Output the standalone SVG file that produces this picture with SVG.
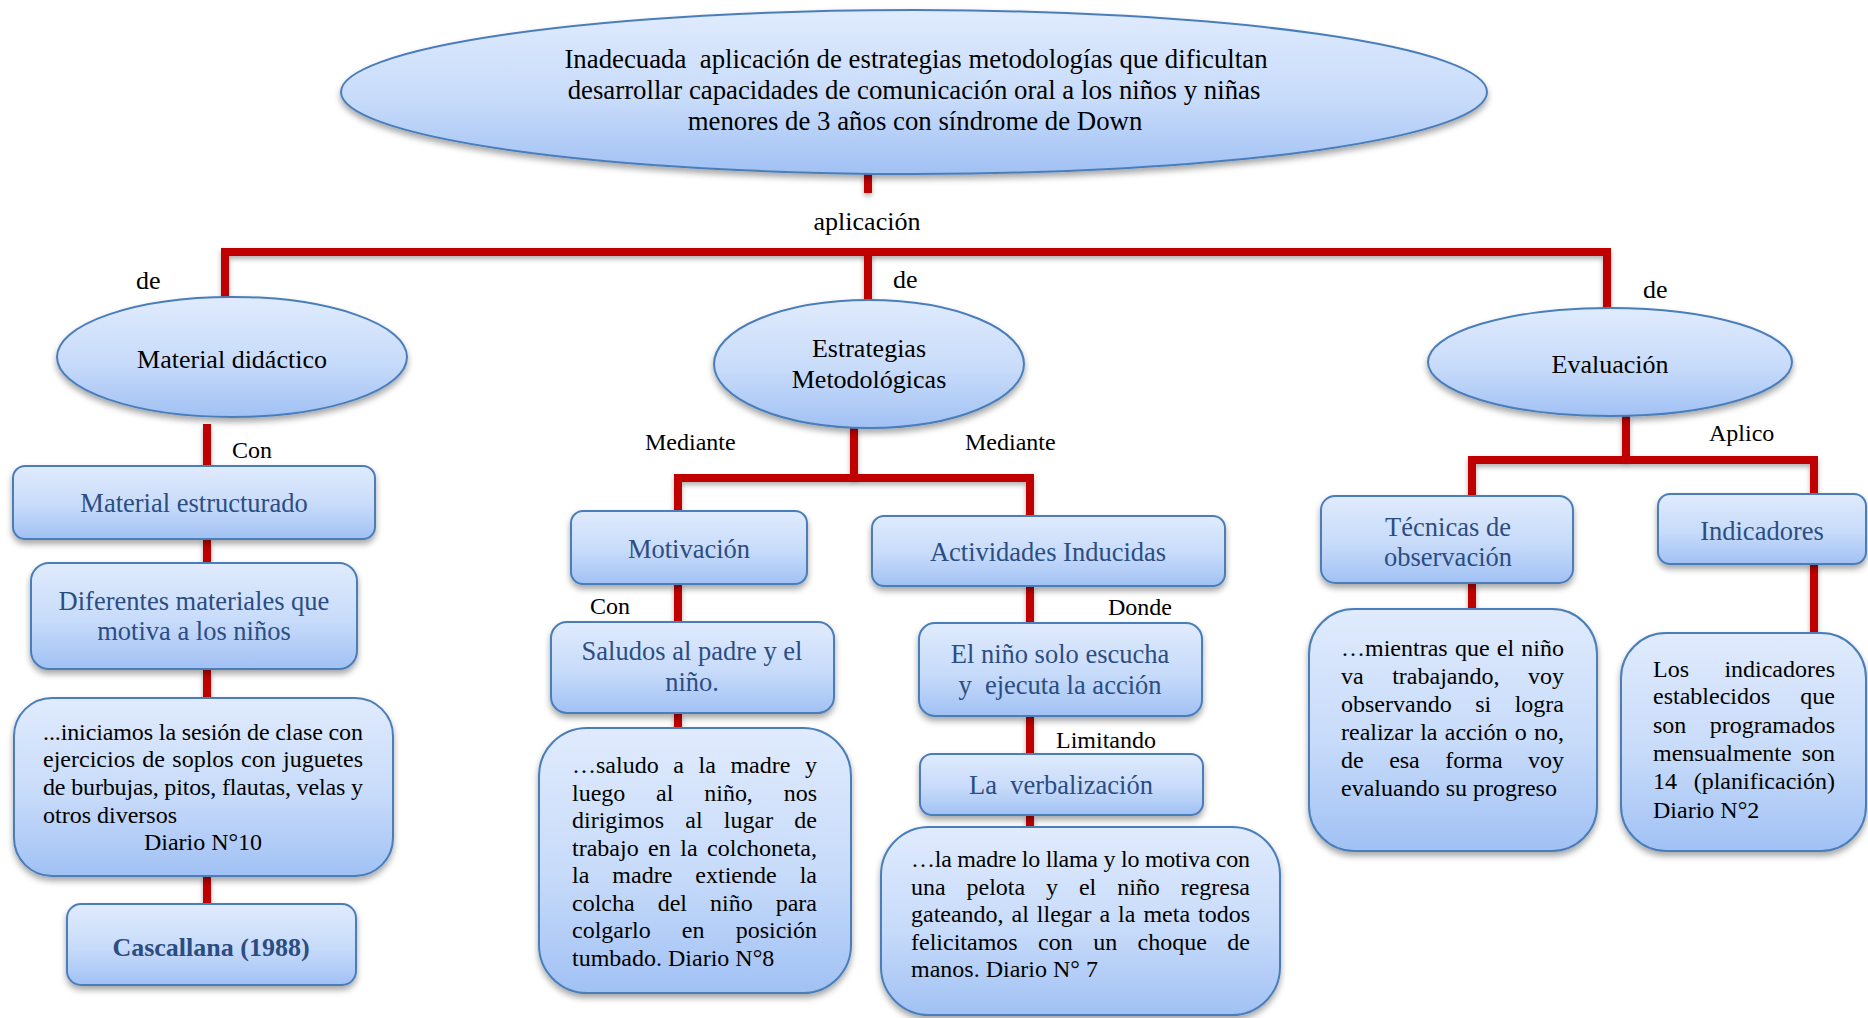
<svg xmlns="http://www.w3.org/2000/svg" width="1868" height="1018" viewBox="0 0 1868 1018">
<defs>
<linearGradient id="g" x1="0" y1="0" x2="0" y2="1">
<stop offset="0" stop-color="#E0EBFD"/>
<stop offset="0.55" stop-color="#C7DBFA"/>
<stop offset="1" stop-color="#A1C1F4"/>
</linearGradient>
<filter id="sh" x="-10%" y="-10%" width="120%" height="130%">
<feDropShadow dx="0" dy="4" stdDeviation="3" flood-color="#000" flood-opacity="0.35"/>
</filter>
<filter id="shc" filterUnits="userSpaceOnUse" x="0" y="0" width="1868" height="1018">
<feDropShadow dx="0" dy="3" stdDeviation="2.5" flood-color="#000" flood-opacity="0.3"/>
</filter>
</defs>
<style>
.n{fill:url(#g);stroke:#4A7EBB;stroke-width:2;filter:url(#sh)}
.c{stroke:#C00000;stroke-width:8;fill:none;filter:url(#shc)}
text{font-family:"Liberation Serif","Times New Roman",serif}
.nt{font-size:26.5px;fill:#2C4D82;text-anchor:middle}
.et{font-size:26px;fill:#000;text-anchor:middle}
.bt{font-size:24px;fill:#000}
.lb{font-size:24px;fill:#000}
.b{font-weight:bold}
</style>

<g id="connectors">
<path class="c" d="M868 173V193"/>
<path class="c" d="M225 298V252H1607V315"/>
<path class="c" d="M868 252V308"/>
<path class="c" d="M207 424V466M207 539V563M207 669V698M207 876V904"/>
<path class="c" d="M854 428V478"/>
<path class="c" d="M678 511V478H1030V516"/>
<path class="c" d="M678 584V622M678 713V728"/>
<path class="c" d="M1030 586V623M1030 716V754M1030 815V827"/>
<path class="c" d="M1626 416V460"/>
<path class="c" d="M1472 495V460H1814V494"/>
<path class="c" d="M1472 583V609M1814 564V633"/>
</g>

<g id="labels">
<text class="et" x="867" y="230">aplicación</text>
<text class="lb" x="136" y="289" style="font-size:26px">de</text>
<text class="lb" x="893" y="288" style="font-size:26px">de</text>
<text class="lb" x="1643" y="298" style="font-size:26px">de</text>
<text class="lb" x="232" y="458">Con</text>
<text class="lb" x="645" y="450">Mediante</text>
<text class="lb" x="965" y="450">Mediante</text>
<text class="lb" x="590" y="614">Con</text>
<text class="lb" x="1108" y="615">Donde</text>
<text class="lb" x="1056" y="748">Limitando</text>
<text class="lb" x="1709" y="441">Aplico</text>
</g>

<g id="n-root">
<ellipse class="n" cx="914" cy="92" rx="573" ry="82"/>
<text class="et" x="916" y="68" style="font-size:26.8px;white-space:pre">Inadecuada  aplicación de estrategias metodologías que dificultan</text>
<text class="et" x="914" y="99" style="font-size:26.8px">desarrollar capacidades de comunicación oral a los niños y niñas</text>
<text class="et" x="915" y="130" style="font-size:26.8px">menores de 3 años con síndrome de Down</text>
</g>

<g id="n-material">
<ellipse class="n" cx="232" cy="357" rx="175" ry="60"/>
<text class="et" x="232" y="368">Material didáctico</text>
</g>
<g id="n-estrategias">
<ellipse class="n" cx="869" cy="364" rx="155" ry="64"/>
<text class="et" x="869" y="357">Estrategias</text>
<text class="et" x="869" y="388">Metodológicas</text>
</g>
<g id="n-evaluacion">
<ellipse class="n" cx="1610" cy="362" rx="182" ry="54"/>
<text class="et" x="1610" y="373">Evaluación</text>
</g>

<g id="n-estructurado">
<rect class="n" x="13" y="466" width="362" height="73" rx="12"/>
<text class="nt" x="194" y="512">Material estructurado</text>
</g>
<g id="n-diferentes">
<rect class="n" x="31" y="563" width="326" height="106" rx="18"/>
<text class="nt" x="194" y="610">Diferentes materiales que</text>
<text class="nt" x="194" y="640">motiva a los niños</text>
</g>
<g id="n-iniciamos">
<rect class="n" x="14" y="698" width="379" height="178" rx="38"/>
<text class="bt" x="43" y="740" textLength="320" lengthAdjust="spacing">...iniciamos la sesión de clase con</text>
<text class="bt" x="43" y="767" textLength="320" lengthAdjust="spacing" word-spacing="1.3">ejercicios de soplos con juguetes</text>
<text class="bt" x="43" y="795" textLength="320" lengthAdjust="spacing">de burbujas, pitos, flautas, velas y</text>
<text class="bt" x="43" y="823">otros diversos</text>
<text class="bt" x="203" y="850" text-anchor="middle">Diario N°10</text>
</g>
<g id="n-cascallana">
<rect class="n" x="67" y="904" width="289" height="81" rx="14"/>
<text class="nt b" x="211" y="956" style="font-size:26px">Cascallana (1988)</text>
</g>

<g id="n-motivacion">
<rect class="n" x="571" y="511" width="236" height="73" rx="12"/>
<text class="nt" x="689" y="558">Motivación</text>
</g>
<g id="n-saludos">
<rect class="n" x="551" y="622" width="283" height="91" rx="16"/>
<text class="nt" x="692" y="660">Saludos al padre y el</text>
<text class="nt" x="692" y="691">niño.</text>
</g>
<g id="n-saludo-texto">
<rect class="n" x="539" y="728" width="312" height="265" rx="48"/>
<text class="bt" x="572" y="773" textLength="245" lengthAdjust="spacing" word-spacing="8.6">…saludo a la madre y</text>
<text class="bt" x="572" y="801" textLength="245" lengthAdjust="spacing" word-spacing="24.8">luego al niño, nos</text>
<text class="bt" x="572" y="828" textLength="245" lengthAdjust="spacing" word-spacing="15.2">dirigimos al lugar de</text>
<text class="bt" x="572" y="856" textLength="245" lengthAdjust="spacing" word-spacing="3.5">trabajo en la colchoneta,</text>
<text class="bt" x="572" y="883" textLength="245" lengthAdjust="spacing" word-spacing="17">la madre extiende la</text>
<text class="bt" x="572" y="911" textLength="245" lengthAdjust="spacing" word-spacing="17">colcha del niño para</text>
<text class="bt" x="572" y="938" textLength="245" lengthAdjust="spacing" word-spacing="25.2">colgarlo en posición</text>
<text class="bt" x="572" y="966">tumbado. Diario N°8</text>
</g>

<g id="n-actividades">
<rect class="n" x="872" y="516" width="353" height="70" rx="12"/>
<text class="nt" x="1048" y="561">Actividades Inducidas</text>
</g>
<g id="n-escucha">
<rect class="n" x="919" y="623" width="283" height="93" rx="16"/>
<text class="nt" x="1060" y="663">El niño solo escucha</text>
<text class="nt" x="1060" y="694" style="white-space:pre">y  ejecuta la acción</text>
</g>
<g id="n-verbalizacion">
<rect class="n" x="920" y="754" width="283" height="61" rx="12"/>
<text class="nt" x="1061" y="794" style="white-space:pre">La  verbalización</text>
</g>
<g id="n-llama">
<rect class="n" x="881" y="827" width="399" height="188" rx="48"/>
<text class="bt" x="911" y="867" textLength="339" lengthAdjust="spacing">…la madre lo llama y lo motiva con</text>
<text class="bt" x="911" y="895" textLength="339" lengthAdjust="spacing" word-spacing="14.9">una pelota y el niño regresa</text>
<text class="bt" x="911" y="922" textLength="339" lengthAdjust="spacing" word-spacing="2">gateando, al llegar a la meta todos</text>
<text class="bt" x="911" y="950" textLength="339" lengthAdjust="spacing" word-spacing="14.4">felicitamos con un choque de</text>
<text class="bt" x="911" y="977">manos. Diario N° 7</text>
</g>

<g id="n-tecnicas">
<rect class="n" x="1321" y="496" width="252" height="87" rx="14"/>
<text class="nt" x="1448" y="536">Técnicas de</text>
<text class="nt" x="1448" y="566">observación</text>
</g>
<g id="n-indicadores">
<rect class="n" x="1658" y="494" width="208" height="70" rx="12"/>
<text class="nt" x="1762" y="540">Indicadores</text>
</g>
<g id="n-mientras">
<rect class="n" x="1309" y="609" width="288" height="242" rx="45"/>
<text class="bt" x="1341" y="656" textLength="223" lengthAdjust="spacing" word-spacing="1.2">…mientras que el niño</text>
<text class="bt" x="1341" y="684" textLength="223" lengthAdjust="spacing" word-spacing="22.5">va trabajando, voy</text>
<text class="bt" x="1341" y="712" textLength="223" lengthAdjust="spacing" word-spacing="17.5">observando si logra</text>
<text class="bt" x="1341" y="740" textLength="223" lengthAdjust="spacing" word-spacing="1.3">realizar la acción o no,</text>
<text class="bt" x="1341" y="768" textLength="223" lengthAdjust="spacing" word-spacing="19.5">de esa forma voy</text>
<text class="bt" x="1341" y="796">evaluando su progreso</text>
</g>
<g id="n-los-indicadores">
<rect class="n" x="1621" y="633" width="245" height="218" rx="45"/>
<text class="bt" x="1653" y="677" textLength="182" lengthAdjust="spacing" word-spacing="29.4">Los indicadores</text>
<text class="bt" x="1653" y="704" textLength="182" lengthAdjust="spacing" word-spacing="24">establecidos que</text>
<text class="bt" x="1653" y="733" textLength="182" lengthAdjust="spacing" word-spacing="17.4">son programados</text>
<text class="bt" x="1653" y="761" textLength="182" lengthAdjust="spacing" word-spacing="4">mensualmente son</text>
<text class="bt" x="1653" y="789" textLength="182" lengthAdjust="spacing" word-spacing="10.7">14 (planificación)</text>
<text class="bt" x="1653" y="818">Diario N°2</text>
</g>
</svg>
